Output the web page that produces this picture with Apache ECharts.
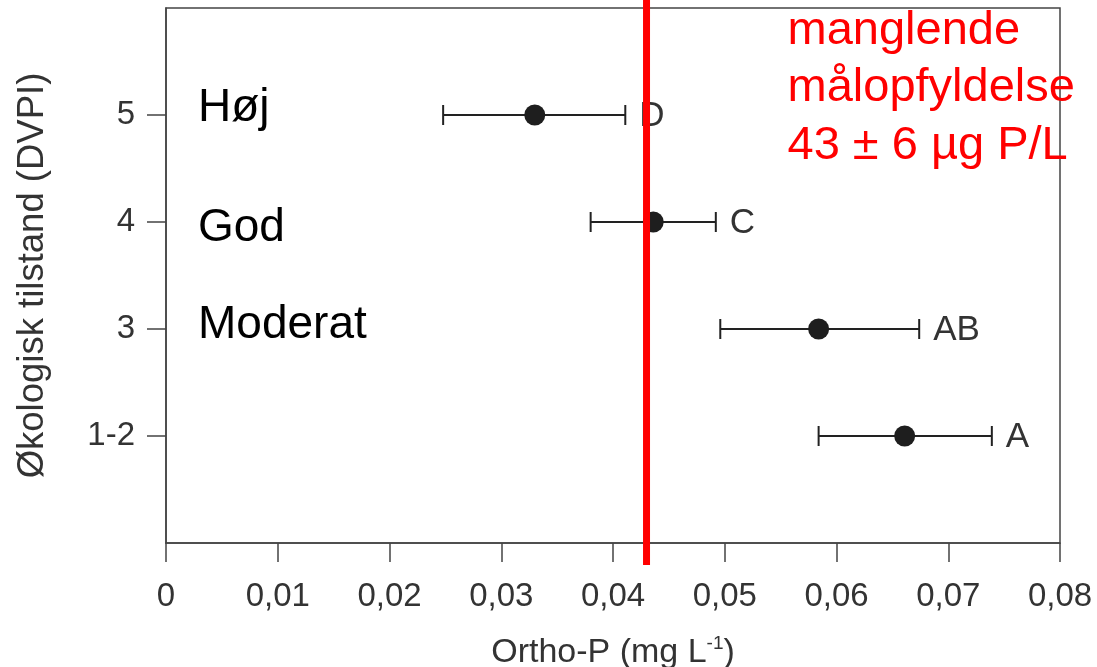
<!DOCTYPE html>
<html>
<head>
<meta charset="utf-8">
<script src="https://cdn.jsdelivr.net/npm/echarts@6/dist/echarts.min.js"></script>
<style>
  html, body { margin: 0; padding: 0; background: #fff; }
  #chart { width: 1097px; height: 667px; }
</style>
</head>
<body>
<div id="chart"></div>
<script>
// Ecological status classes (DVPI), bottom to top
const levels = ['1-2', '3', '4', '5'];
const classNames = ['', 'Moderat', 'God', 'Høj'];
// Ortho-P (mg/L): mean and interval ends per class
const meanP = [0.0661, 0.0584, 0.0436, 0.0330];
const lowerP = [0.0584, 0.0496, 0.0380, 0.0248];
const upperP = [0.0739, 0.0674, 0.0492, 0.0411];
// significance groups
const groups = ['A', 'AB', 'C', 'D'];
// threshold for failing the target (mg/L)
const threshold = 0.043;
const thresholdText = ['manglende', 'målopfyldelse', '43 ± 6 µg P/L'];
// x-axis tick values
const xTicks = [0, 0.01, 0.02, 0.03, 0.04, 0.05, 0.06, 0.07, 0.08];

const FONT = '"Liberation Sans", Arial, Helvetica, sans-serif';
const GREY = '#333333';

const yPos = levels.map((_, i) => i + 1);
const errData = levels.map((_, i) => [lowerP[i], upperP[i], meanP[i], yPos[i], groups[i]]);
const dotData = levels.map((_, i) => [meanP[i], yPos[i]]);
const classData = levels.map((_, i) => [0, yPos[i], classNames[i]]);
// small vertical nudges for the class annotations (px)
const classDy = [0, -4, 6, -7];

const chart = echarts.init(document.getElementById('chart'), null, { renderer: 'canvas' });

chart.setOption({
  animation: false,
  backgroundColor: '#ffffff',
  grid: {
    left: 166, right: 37, top: 8, bottom: 124,
    show: true, borderColor: '#444', borderWidth: 1.5,
    containLabel: false, outerBoundsMode: 'none'
  },
  xAxis: {
    type: 'value',
    min: xTicks[0], max: xTicks[xTicks.length - 1], interval: 0.01,
    splitLine: { show: false },
    axisLine: { show: true, onZero: false, lineStyle: { color: '#444', width: 1.5 } },
    axisTick: { show: true, inside: false, length: 19, lineStyle: { color: '#444', width: 1.5 } },
    axisLabel: {
      margin: 37, color: GREY, fontSize: 33, fontFamily: FONT,
      formatter: v => (v === 0 ? '0' : v.toFixed(2).replace('.', ','))
    },
    name: 'Ortho-P (mg L{sup|-1})',
    nameLocation: 'middle',
    nameGap: 91,
    nameTextStyle: {
      color: GREY, fontSize: 34, fontFamily: FONT, lineHeight: 38,
      rich: { sup: { fontSize: 19, fontFamily: FONT, color: GREY, verticalAlign: 'top', lineHeight: 21 } }
    }
  },
  yAxis: {
    type: 'value',
    min: 0, max: 5, interval: 1,
    splitLine: { show: false },
    axisLine: { show: true, onZero: false, lineStyle: { color: '#444', width: 1.5 } },
    axisTick: { show: true, inside: false, length: 19, customValues: yPos, lineStyle: { color: '#444', width: 1.5 } },
    axisLabel: {
      margin: 31, color: GREY, fontSize: 33, fontFamily: FONT,
      customValues: yPos,
      formatter: v => levels[Math.round(v) - 1] || ''
    },
    name: 'Økologisk tilstand (DVPI)',
    nameLocation: 'middle',
    nameGap: 115,
    nameTextStyle: { color: GREY, fontSize: 36.5, fontFamily: FONT }
  },
  series: [
    {
      // interval bars with end caps and group letters
      type: 'custom',
      data: errData,
      z: 2,
      renderItem: (params, api) => {
        const y = api.value(3);
        const lo = api.coord([api.value(0), y]);
        const hi = api.coord([api.value(1), y]);
        const cap = 10;
        const st = { stroke: '#222', lineWidth: 2 };
        return {
          type: 'group',
          children: [
            { type: 'line', shape: { x1: lo[0], y1: lo[1], x2: hi[0], y2: hi[1] }, style: st },
            { type: 'line', shape: { x1: lo[0], y1: lo[1] - cap, x2: lo[0], y2: lo[1] + cap }, style: st },
            { type: 'line', shape: { x1: hi[0], y1: hi[1] - cap, x2: hi[0], y2: hi[1] + cap }, style: st },
            {
              type: 'text',
              style: {
                x: hi[0] + 14, y: hi[1] + 1, text: api.value(4),
                fill: GREY, font: '35px ' + FONT, textAlign: 'left', textVerticalAlign: 'middle'
              }
            }
          ]
        };
      }
    },
    {
      type: 'scatter',
      data: dotData,
      symbol: 'circle',
      symbolSize: 21,
      itemStyle: { color: '#1e1e1e', opacity: 1 },
      z: 3
    },
    {
      // class annotations inside the plot
      type: 'custom',
      data: classData,
      z: 4,
      renderItem: (params, api) => {
        const p = api.coord([api.value(0), api.value(1)]);
        return {
          type: 'text',
          style: {
            x: p[0] + 32, y: p[1] + classDy[params.dataIndex], text: classNames[params.dataIndex],
            fill: '#000', font: '46px ' + FONT, textAlign: 'left', textVerticalAlign: 'middle'
          }
        };
      }
    },
    {
      // threshold line with its caption
      type: 'custom',
      data: [[threshold, 0]],
      z: 10,
      clip: false,
      renderItem: (params, api) => {
        const p = api.coord([api.value(0), api.value(1)]);
        return {
          type: 'group',
          children: [
            {
              type: 'line',
              shape: { x1: p[0], y1: 0, x2: p[0], y2: p[1] + 22 },
              style: { stroke: '#ff0000', lineWidth: 7 }
            },
            {
              type: 'text',
              style: {
                x: p[0] + 141, y: 2, text: thresholdText.join('\n'),
                fill: '#ff0000', font: '47px ' + FONT, lineHeight: 57.5,
                textAlign: 'left', textVerticalAlign: 'top'
              }
            }
          ]
        };
      }
    }
  ]
});
</script>
</body>
</html>
